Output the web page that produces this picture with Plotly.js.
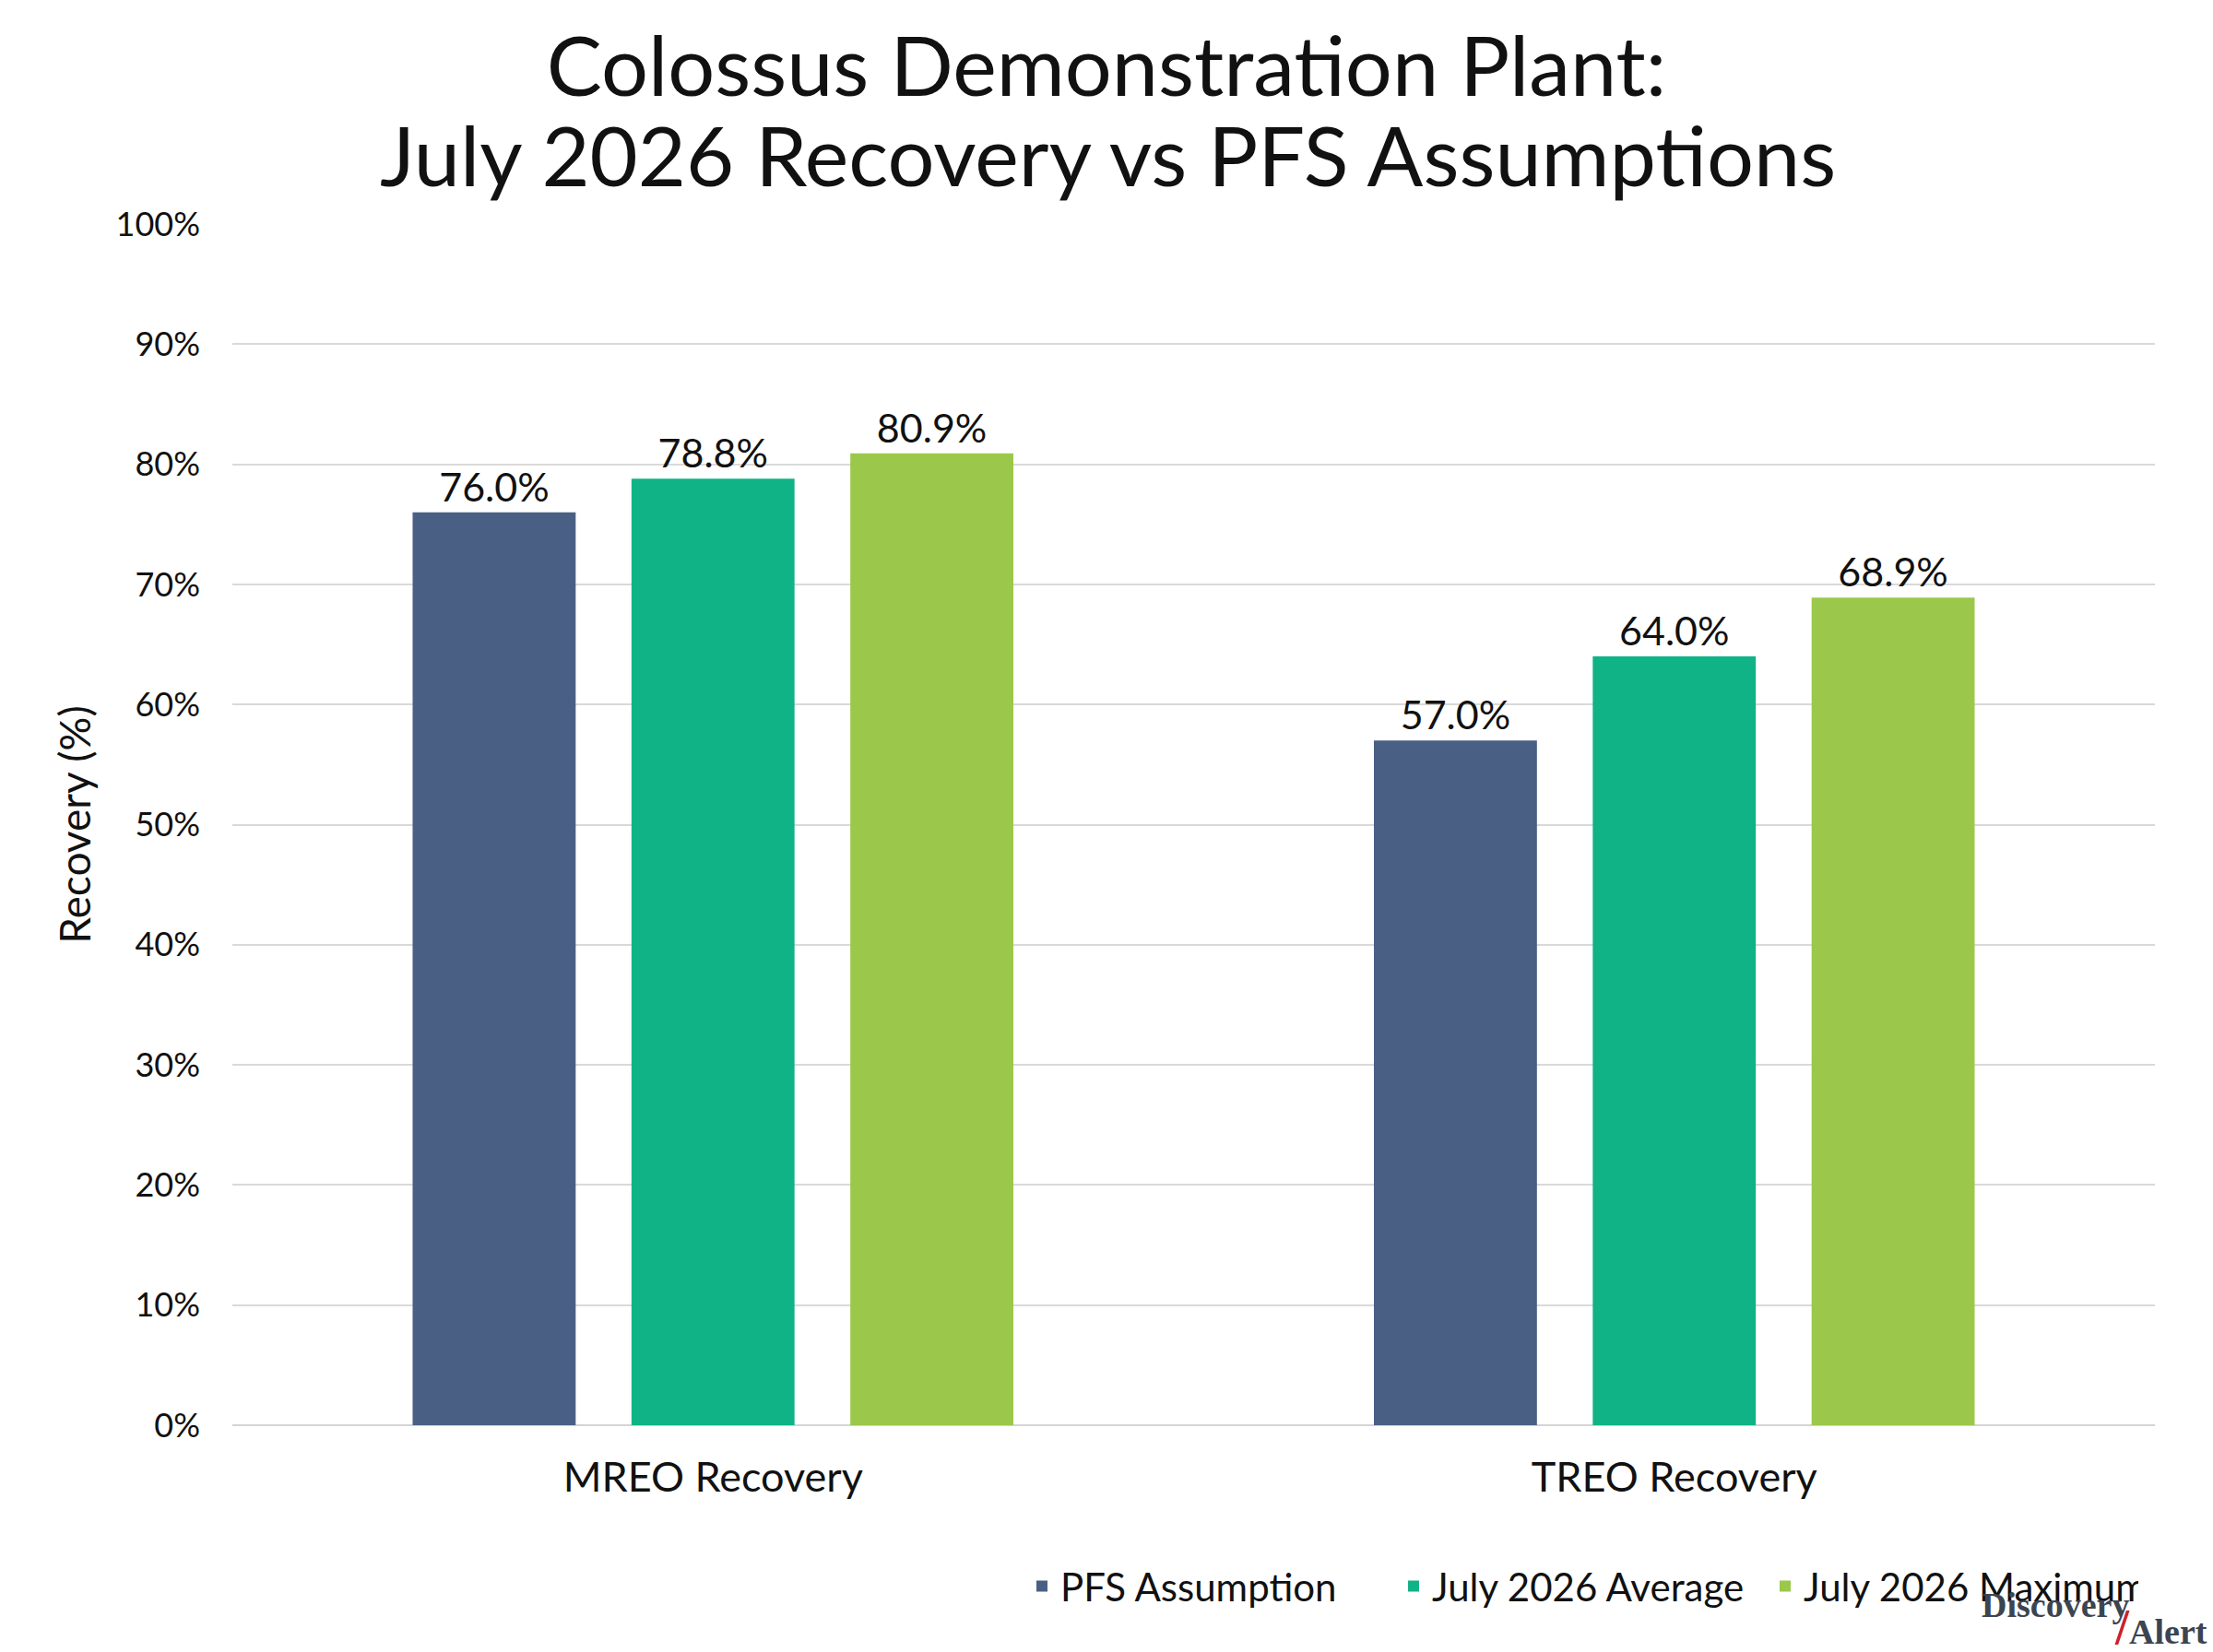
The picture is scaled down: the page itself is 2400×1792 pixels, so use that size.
<!DOCTYPE html>
<html>
<head>
<meta charset="utf-8">
<script src="https://cdn.plot.ly/plotly-3.0.1.min.js"></script>
<style>
html,body{margin:0;padding:0;background:#fff;}
#chart{width:2400px;height:1792px;}
</style>
</head>
<body>
<div id="chart"></div>
<script>
const categories = ["MREO Recovery", "TREO Recovery"];
const seriesNames = ["PFS Assumption", "July 2026 Average", "July 2026 Maximum"];
const pfsAssumption = [76.0, 57.0];
const july2026Average = [78.8, 64.0];
const july2026Maximum = [80.9, 68.9];
const yTickValues = [0, 10, 20, 30, 40, 50, 60, 70, 80, 90, 100];
const yTickLabels = ["0%", "10%", "20%", "30%", "40%", "50%", "60%", "70%", "80%", "90%", "100%"];
const titleLines = ["Colossus Demonstration Plant:", "July 2026 Recovery vs PFS Assumptions"];

const colors = ["#4a5f84", "#10b386", "#9bc84a"];
const FONT = "Lato, 'Noto Sans', sans-serif";
const SERIF = "'Liberation Serif', 'DejaVu Serif', serif";
const seriesValues = [pfsAssumption, july2026Average, july2026Maximum];

const traces = seriesValues.map((vals, i) => ({
  type: "bar",
  name: seriesNames[i],
  x: categories,
  y: vals,
  marker: { color: colors[i] },
  text: vals.map(v => v.toFixed(1) + "%"),
  textposition: "outside",
  cliponaxis: false,
  textfont: { family: FONT, size: 43, color: "#111" },
  hoverinfo: "skip"
}));

const layout = {
  width: 2400,
  height: 1792,
  paper_bgcolor: "#ffffff",
  plot_bgcolor: "#ffffff",
  font: { family: FONT, color: "#111" },
  margin: { l: 252, r: 63, t: 243, b: 246, autoexpand: false },
  title: {
    text: titleLines[0],
    font: { family: FONT, size: 90, color: "#111" },
    x: 0.5,
    xanchor: "center",
    yref: "container",
    y: 0.9598,
    yanchor: "middle"
  },
  barmode: "group",
  bargap: 0.317,
  bargroupgap: 0.255,
  xaxis: {
    type: "category",
    showgrid: false,
    showline: false,
    ticks: "",
    tickfont: { family: FONT, size: 45, color: "#111" },
    ticklabelstandoff: 26
  },
  yaxis: {
    range: [0, 100],
    tickvals: yTickValues,
    ticktext: yTickLabels,
    showgrid: true,
    gridcolor: "#d9d9d9",
    gridwidth: 2,
    zeroline: true,
    zerolinecolor: "#d4d4d4",
    zerolinewidth: 2,
    showline: false,
    ticks: "",
    ticklabelstandoff: 34,
    tickfont: { family: FONT, size: 36, color: "#111" },
    title: {
      text: "Recovery (%)",
      font: { family: FONT, size: 46, color: "#111" },
      standoff: 12
    }
  },
  legend: {
    orientation: "h",
    x: 0.4115,
    xanchor: "left",
    y: -0.134,
    yanchor: "middle",
    font: { family: FONT, size: 42, color: "#111" },
    itemwidth: 30,
    entrywidth: 358,
    entrywidthmode: "pixels",
    traceorder: "normal"
  },
  annotations: [
    {
      xref: "paper", yref: "paper",
      x: 0.4556, y: 1.058, xanchor: "center", yanchor: "middle",
      text: titleLines[1],
      showarrow: false,
      font: { family: FONT, size: 90, color: "#111" }
    },
    {
      xref: "paper", yref: "paper",
      x: 1.0, y: -0.150, xanchor: "right", yanchor: "middle",
      xshift: -26,
      text: "<b>Discovery</b>",
      showarrow: false,
      font: { family: SERIF, size: 38, color: "#3b4550" }
    },
    {
      xref: "paper", yref: "paper",
      x: 1.0, y: -0.168, xanchor: "left", yanchor: "middle",
      xshift: -46,
      text: "<b><span style='color:#d0202a;font-size:54px'>/</span>Alert</b>",
      showarrow: false,
      font: { family: SERIF, size: 38, color: "#3b4550" }
    }
  ]
};

Plotly.newPlot("chart", traces, layout, { displayModeBar: false, staticPlot: true });
</script>
</body>
</html>
